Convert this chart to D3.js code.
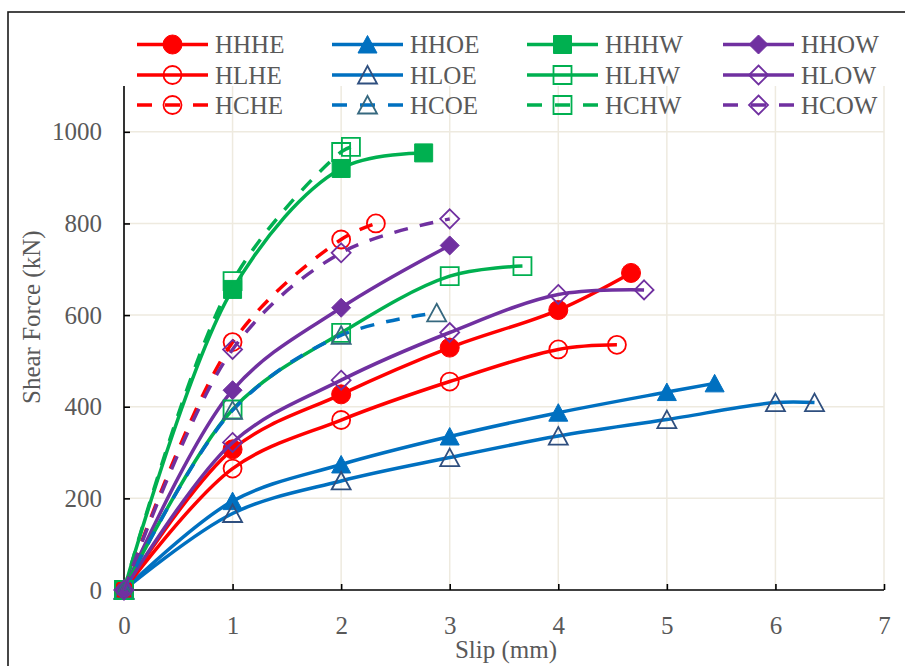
<!DOCTYPE html>
<html>
<head>
<meta charset="utf-8">
<script src="https://cdn.jsdelivr.net/npm/d3@7"></script>
<style>
  html, body { margin: 0; padding: 0; background: #fff; }
  svg { display: block; }
  text { font-family: "Liberation Serif", "DejaVu Serif", serif; fill: #595959; }
</style>
</head>
<body>
<div id="chart"></div>
<script>
// ---------------- data ----------------
const seriesNames = ["HHHE","HHOE","HHHW","HHOW","HLHE","HLOE","HLHW","HLOW","HCHE","HCOE","HCHW","HCOW"];

const slipHHHE  = [0, 1, 2, 3, 4, 4.67];
const forceHHHE = [0, 307, 427, 529, 611, 692];
const slipHHOE  = [0, 1, 2, 3, 4, 5, 5.44];
const forceHHOE = [0, 194, 274, 335, 387, 432, 451];
const slipHHHW  = [0, 1, 2, 2.76];
const forceHHHW = [0, 656, 920, 954];
const slipHHOW  = [0, 1, 2, 3];
const forceHHOW = [0, 436, 616, 752];

const slipHLHE  = [0, 1, 2, 3, 4, 4.54];
const forceHLHE = [0, 265, 371, 455, 525, 535];
const slipHLOE  = [0, 1, 2, 3, 4, 5, 6, 6.36];
const forceHLOE = [0, 167, 238, 289, 336, 372, 409, 409];
const slipHLHW  = [0, 1, 2, 3, 3.67];
const forceHLHW = [0, 394, 561, 685, 707];
const slipHLOW  = [0, 1, 2, 3, 4, 4.79];
const forceHLOW = [0, 322, 458, 562, 645, 655];

const slipHCHE  = [0, 1, 2, 2.32];
const forceHCHE = [0, 541, 765, 800];
const slipHCOE  = [0, 1, 2, 2.88];
const forceHCOE = [0, 392, 556, 605];
const slipHCHW  = [0, 1, 2, 2.09];
const forceHCHW = [0, 674, 956, 967];
const slipHCOW  = [0, 1, 2, 3];
const forceHCOW = [0, 525, 736, 810];

const xTicks = [0, 1, 2, 3, 4, 5, 6, 7];
const yTicks = [0, 200, 400, 600, 800, 1000];
const xTitle = "Slip (mm)";
const yTitle = "Shear Force (kN)";

const seriesData = {
  HHHE: [slipHHHE, forceHHHE], HHOE: [slipHHOE, forceHHOE], HHHW: [slipHHHW, forceHHHW], HHOW: [slipHHOW, forceHHOW],
  HLHE: [slipHLHE, forceHLHE], HLOE: [slipHLOE, forceHLOE], HLHW: [slipHLHW, forceHLHW], HLOW: [slipHLOW, forceHLOW],
  HCHE: [slipHCHE, forceHCHE], HCOE: [slipHCOE, forceHCOE], HCHW: [slipHCHW, forceHCHW], HCOW: [slipHCOW, forceHCOW]
};

// ---------------- styles ----------------
const RED = "#ff0000", BLUE = "#0070c0", GREEN = "#00b050", PURPLE = "#7030a0";
const styles = {
  HHHE: {color: RED,    marker: "circle",   filled: true,  dashed: false},
  HHOE: {color: BLUE,   marker: "triangle", filled: true,  dashed: false},
  HHHW: {color: GREEN,  marker: "square",   filled: true,  dashed: false},
  HHOW: {color: PURPLE, marker: "diamond",  filled: true,  dashed: false},
  HLHE: {color: RED,    marker: "circle",   filled: false, dashed: false},
  HLOE: {color: BLUE,   marker: "triangle", filled: false, dashed: false, mstroke: "#2f4f7f"},
  HLHW: {color: GREEN,  marker: "square",   filled: false, dashed: false},
  HLOW: {color: PURPLE, marker: "diamond",  filled: false, dashed: false},
  HCHE: {color: RED,    marker: "circle",   filled: false, dashed: true},
  HCOE: {color: BLUE,   marker: "triangle", filled: false, dashed: true, mstroke: "#36687f"},
  HCHW: {color: GREEN,  marker: "square",   filled: false, dashed: true},
  HCOW: {color: PURPLE, marker: "diamond",  filled: false, dashed: true}
};

// ---------------- chart ----------------
const W = 905, H = 666;
const svg = d3.select("#chart").append("svg").attr("width", W).attr("height", H);
svg.append("rect").attr("width", W).attr("height", H).attr("fill", "#fff");

// outer chart frame
svg.append("rect").attr("x", 8).attr("y", 12).attr("width", 1000).attr("height", 1000)
  .attr("fill", "none").attr("stroke", "#1a1a1a").attr("stroke-width", 1.6);

const x = d3.scaleLinear().domain([0, 7]).range([124, 884]);
const y = d3.scaleLinear().domain([0, 1100]).range([590, 86]);

const grid = svg.append("g");
const GRID = "#eeeadf";
grid.selectAll(".vg").data(xTicks.filter(d => d > 0)).join("line")
  .attr("x1", d => x(d)).attr("x2", d => x(d)).attr("y1", y(1100)).attr("y2", y(0))
  .attr("stroke", GRID).attr("stroke-width", 1.5);
grid.selectAll(".hg").data(yTicks.filter(d => d > 0)).join("line")
  .attr("x1", x(0)).attr("x2", x(7)).attr("y1", d => y(d)).attr("y2", d => y(d))
  .attr("stroke", GRID).attr("stroke-width", 1.5);

// axes
const xAxis = d3.axisBottom(x).tickValues(xTicks).tickSize(-6).tickPadding(26).tickFormat(d3.format("d"));
const yAxis = d3.axisLeft(y).tickValues(yTicks).tickSize(-6).tickPadding(22).tickFormat(d3.format("d"));

const gx = svg.append("g").attr("transform", `translate(0,${y(0)})`).call(xAxis);
const gy = svg.append("g").attr("transform", `translate(${x(0)},0)`).call(yAxis);
[gx, gy].forEach(g => {
  g.select(".domain").attr("stroke", "#000").attr("stroke-width", 1.6);
  g.selectAll(".tick line").attr("stroke", "#000").attr("stroke-width", 1.6);
  g.selectAll(".tick text").style("font-family", '"Liberation Serif", serif')
    .style("font-size", "25px").attr("fill", "#595959");
});
// y axis runs from 0 to top of plot area
gy.select(".domain").attr("d", `M0,${y(1100)}V${y(0)}`);
gx.select(".domain").attr("d", `M0,0H${x(7)}`);
gx.select(".domain").attr("d", `M${x(0)},0H${x(7)}`);

svg.append("text").attr("x", 506).attr("y", 658).attr("text-anchor", "middle")
  .style("font-size", "25px").text(xTitle);
svg.append("text").attr("transform", "translate(40,404) rotate(-90)").attr("text-anchor", "start")
  .style("font-size", "25px").text(yTitle);

// marker drawing
function markerPath(type) {
  if (type === "square") return "M-9,-9H9V9H-9Z";
  if (type === "diamond") return "M0,-9.5L9.5,0L0,9.5L-9.5,0Z";
  if (type === "triangle") return "M0,-9L9.5,8.5L-9.5,8.5Z";
  return null;
}
function drawMarker(g, cx, cy, st) {
  const stroke = st.mstroke || st.color;
  let el;
  if (st.marker === "circle") {
    el = g.append("circle").attr("cx", cx).attr("cy", cy).attr("r", st.filled ? 9.5 : 9);
  } else {
    el = g.append("path").attr("d", markerPath(st.marker)).attr("transform", `translate(${cx},${cy})`);
  }
  el.attr("fill", st.filled ? st.color : "none")
    .attr("stroke", st.filled ? st.color : stroke)
    .attr("stroke-width", st.filled ? 1 : 1.8);
}

const line = d3.line().x(d => x(d[0])).y(d => y(d[1])).curve(d3.curveCatmullRom.alpha(0.5));
const plot = svg.append("g");
seriesNames.forEach(name => {
  const [xs, ys] = seriesData[name];
  const pts = xs.map((v, i) => [v, ys[i]]);
  const st = styles[name];
  const g = plot.append("g");
  g.append("path").attr("d", line(pts)).attr("fill", "none")
    .attr("stroke", st.color).attr("stroke-width", 3.5)
    .attr("stroke-dasharray", st.dashed ? "14,12" : null);
  pts.forEach(p => drawMarker(g, x(p[0]), y(p[1]), st));
});

// legend
const legX = [137, 332, 527, 723];
const legY = [44.5, 75, 105];
const leg = svg.append("g");
seriesNames.forEach((name, i) => {
  const col = i % 4, row = Math.floor(i / 4);
  const st = styles[name];
  const g = leg.append("g");
  const x0 = legX[col], yc = legY[row];
  g.append("line").attr("x1", x0).attr("x2", x0 + 71).attr("y1", yc).attr("y2", yc)
    .attr("stroke", st.color).attr("stroke-width", 3.5)
    .attr("stroke-dasharray", st.dashed ? "15,13" : null);
  drawMarker(g, x0 + 35.5, yc, st);
  g.append("text").attr("x", x0 + 78).attr("y", yc).attr("dy", "0.34em")
    .style("font-size", "25px").text(name);
});
</script>
</body>
</html>
